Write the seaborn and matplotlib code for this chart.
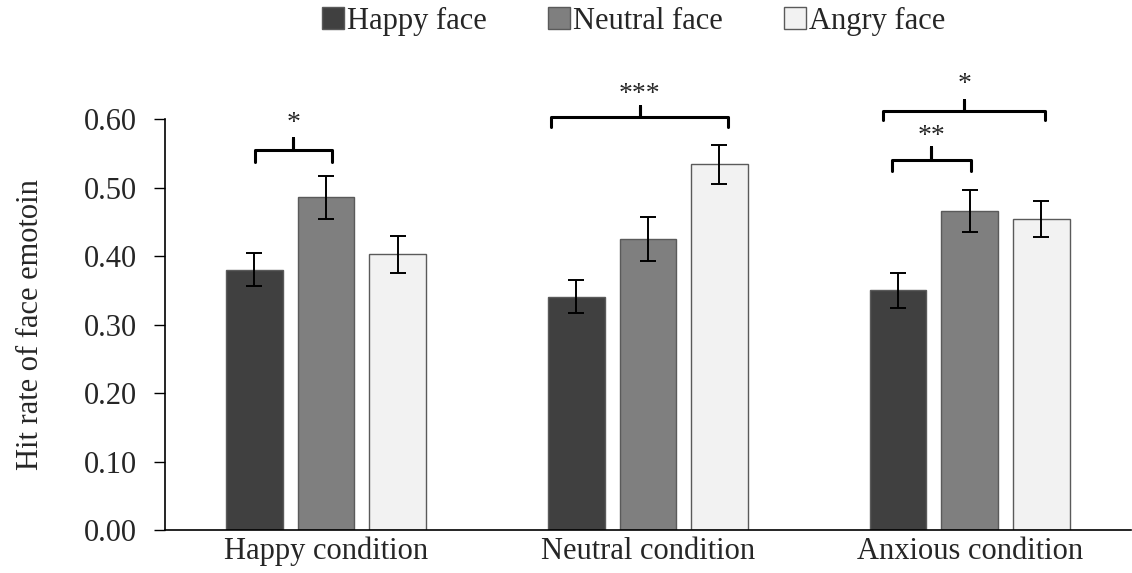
import numpy as np
import pandas as pd
import matplotlib
matplotlib.use("Agg")
import matplotlib.pyplot as plt
import seaborn as sns
from matplotlib.patches import Patch

conditions = ["Happy condition", "Neutral condition", "Anxious condition"]
faces = ["Happy face", "Neutral face", "Angry face"]
happy_face = [0.380, 0.341, 0.350]
neutral_face = [0.486, 0.425, 0.466]
angry_face = [0.403, 0.534, 0.454]
happy_err = [0.024, 0.024, 0.026]
neutral_err = [0.031, 0.032, 0.030]
angry_err = [0.027, 0.028, 0.026]
yticks = [0.0, 0.1, 0.2, 0.3, 0.4, 0.5, 0.6]

sns.set_theme(style="white")
plt.rcParams["font.family"] = ["Liberation Serif", "DejaVu Serif"]

rows = []
for i, c in enumerate(conditions):
    for f, vals in zip(faces, [happy_face, neutral_face, angry_face]):
        rows.append({"condition": c, "face": f, "value": vals[i]})
df = pd.DataFrame(rows)

colors = ["#404040", "#7f7f7f", "#f2f2f2"]
fig = plt.figure(figsize=(11.32, 5.73), dpi=100)
ax = fig.add_axes([0.1458, 0.075, 0.853, 0.7168])
sns.barplot(data=df, x="condition", y="value", hue="face", hue_order=faces,
            order=conditions, palette=colors, width=0.667, gap=0.21,
            errorbar=None, edgecolor="#5a5a5a", linewidth=1.0, ax=ax, legend=False)

errs = [happy_err, neutral_err, angry_err]
vals = [happy_face, neutral_face, angry_face]
patches = [p for p in ax.patches]
for hi in range(3):
    for ci in range(3):
        p = patches[hi * 3 + ci]
        xc = p.get_x() + p.get_width() / 2
        ax.errorbar(xc, vals[hi][ci], yerr=errs[hi][ci], fmt="none", ecolor="black",
                    elinewidth=1.4, capsize=6, capthick=1.4)

ax.set_xlim(-0.5, 2.5)
ax.set_ylim(0, 0.6)
ax.set_yticks(yticks)
ax.set_yticklabels([f"{t:.2f}" for t in yticks], fontsize=22)
ax.tick_params(axis="y", direction="out", length=8, width=1, color="black", pad=12, left=True)
ax.tick_params(axis="x", length=0, labelsize=22, pad=5)
ax.set_xlabel("")
ax.set_ylabel("Hit rate of face emotoin", fontsize=22, labelpad=28)
for s in ["top", "right"]:
    ax.spines[s].set_visible(False)
for s in ["left", "bottom"]:
    ax.spines[s].set_color("black")
    ax.spines[s].set_linewidth(1.2)

def bracket(x0, x1, yend, yh, ytip, ystar, label):
    xm = (x0 + x1) / 2
    ax.plot([x0, x0, xm, xm, xm, x1, x1], [yend, yh, yh, ytip, yh, yh, yend],
            color="black", lw=2.2, clip_on=False, solid_joinstyle="round",
            solid_capstyle="round")
    ax.text(xm, ystar, label, ha="center", va="center", fontsize=20, clip_on=False)

bracket(-0.222, 0.02, 0.538, 0.555, 0.572, 0.594, "*")
bracket(0.70, 1.25, 0.589, 0.603, 0.620, 0.636, "***")
bracket(1.731, 2.235, 0.5985, 0.612, 0.628, 0.651, "*")
bracket(1.759, 2.003, 0.5246, 0.541, 0.559, 0.575, "**")

handles = [Patch(facecolor=c, edgecolor="#5a5a5a", linewidth=1.0) for c in colors]
fig.legend(handles, faces, loc="center", bbox_to_anchor=(0.56, 0.963), ncol=3,
           frameon=False, fontsize=22, handlelength=0.7, handleheight=0.7,
           handletextpad=0.12, columnspacing=2.0)

fig.savefig("out.png", dpi=100)
